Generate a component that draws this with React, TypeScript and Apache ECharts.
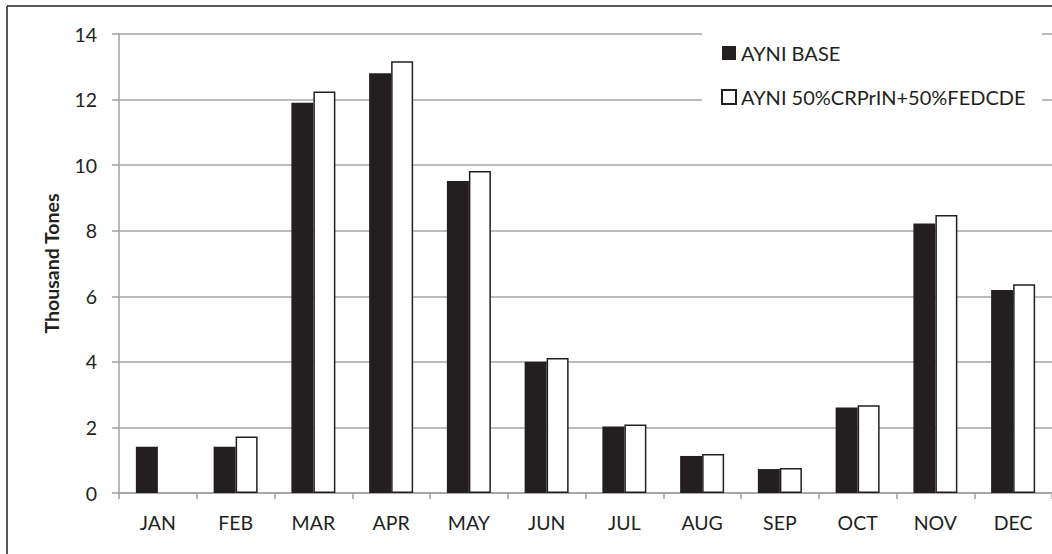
import React, { useEffect, useRef } from "react";
import * as echarts from "echarts";

const categories = ["JAN", "FEB", "MAR", "APR", "MAY", "JUN", "JUL", "AUG", "SEP", "OCT", "NOV", "DEC"];
const baseName = "AYNI BASE";
const mixName = "AYNI 50%CRPrIN+50%FEDCDE";
const baseValues = [1.41, 1.41, 11.9, 12.8, 9.52, 4.0, 2.03, 1.13, 0.73, 2.61, 8.22, 6.19];
const mixValues: (number | null)[] = [null, 1.72, 12.25, 13.17, 9.82, 4.12, 2.09, 1.19, 0.76, 2.68, 8.48, 6.37];
const yTicks = { min: 0, max: 14, interval: 2 };

const FONT = "Lato, 'Liberation Sans', sans-serif";
const DARK = "#231f20";

export default function App() {
  const ref = useRef<HTMLDivElement>(null);
  useEffect(() => {
    if (!ref.current) return;
    const chart = echarts.init(ref.current, undefined, { renderer: "svg" });
    chart.setOption({
      animation: false,
      backgroundColor: "#fff",
      textStyle: { fontFamily: FONT },
      grid: { left: 119, top: 34, width: 936, height: 459, containLabel: false },
      legend: {
        orient: "vertical",
        left: 716,
        top: 38,
        itemGap: 24,
        itemWidth: 14,
        itemHeight: 14,
        icon: "rect",
        z: 5,
        textStyle: { fontFamily: FONT, fontSize: 20, color: "#231f20" },
        data: [baseName, mixName],
      },
      graphic: [
        {
          type: "rect",
          z: 4,
          shape: { x: 702, y: 26, width: 340, height: 92 },
          style: { fill: "#fff" },
        },
        {
          type: "line",
          z: 10,
          shape: { x1: 7, y1: 6, x2: 1052, y2: 6 },
          style: { stroke: DARK, lineWidth: 1.5 },
        },
        {
          type: "line",
          z: 10,
          shape: { x1: 7, y1: 6, x2: 7, y2: 554 },
          style: { stroke: DARK, lineWidth: 1.5 },
        },
      ],
      xAxis: {
        type: "category",
        data: categories,
        axisLine: { lineStyle: { color: "#a0a0a0", width: 1.5 } },
        axisTick: { show: true, length: 6, lineStyle: { color: "#a0a0a0", width: 1.5 } },
        axisLabel: { fontFamily: FONT, fontSize: 19.5, color: "#231f20", margin: 19 },
      },
      yAxis: {
        type: "value",
        min: yTicks.min,
        max: yTicks.max,
        interval: yTicks.interval,
        name: "Thousand Tones",
        nameLocation: "middle",
        nameGap: 58,
        nameTextStyle: { fontFamily: FONT, fontSize: 19.5, fontWeight: "bold", color: "#231f20" },
        axisLine: { show: true, lineStyle: { color: "#a0a0a0", width: 1.5 } },
        axisTick: { show: true, length: 7, lineStyle: { color: "#a0a0a0", width: 1.5 } },
        axisLabel: { fontFamily: FONT, fontSize: 19.5, color: "#231f20", margin: 22 },
        splitLine: { show: true, lineStyle: { color: "#a6a6a6", width: 1.5 } },
      },
      series: [
        {
          name: baseName,
          type: "bar",
          data: baseValues,
          barWidth: 22,
          barGap: "0%",
          itemStyle: { color: DARK },
        },
        {
          name: mixName,
          type: "bar",
          data: mixValues,
          barWidth: 22,
          barGap: "0%",
          itemStyle: { color: "#fff", borderColor: DARK, borderWidth: 1.5 },
        },
      ],
    });
    return () => chart.dispose();
  }, []);
  return <div ref={ref} style={{ position: "fixed", left: 0, top: 0, width: 1052, height: 554 }} />;
}
